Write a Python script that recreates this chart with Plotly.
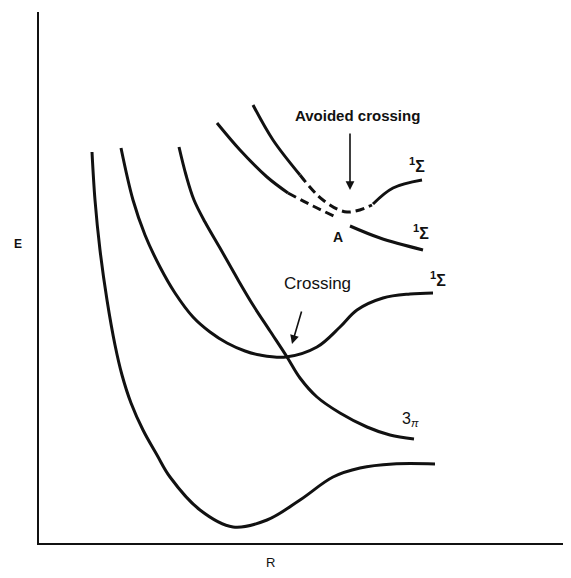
import plotly.graph_objects as go

# R / E in arbitrary units (origin at the axes corner)
ground_R = [53, 56, 61, 68, 76, 83, 92, 104, 118, 131, 161, 194, 228, 261, 294, 321, 354, 396]
ground_E = [391, 343, 293, 243, 198, 168, 140, 113, 88, 66, 33, 16, 23, 43, 66, 75, 79, 79]

sigma_R = [82, 94, 106, 121, 136, 154, 171, 188, 206, 221, 247, 278, 301, 318, 344, 371, 394]
sigma_E = [395, 343, 308, 276, 250, 226, 211, 200, 192, 188, 186, 196, 216, 233, 245, 249, 250]

pi_R = [140, 147, 155, 166, 181, 198, 214, 231, 248, 261, 278, 301, 328, 351, 375]
pi_E = [396, 368, 343, 321, 295, 265, 238, 212, 186, 165, 146, 130, 116, 108, 104]

# lower curve of the avoided-crossing pair
low_solid_R = [178, 201, 228, 249]
low_solid_E = [420, 393, 366, 350]
low_dash_R = [249, 274, 299]
low_dash_E = [350, 337, 325]
low_right_R = [311, 341, 384]
low_right_E = [317, 305, 293]

# upper curve of the avoided-crossing pair
up_solid_R = [214, 234, 261]
up_solid_E = [438, 403, 368]
up_dash_R = [261, 284, 308, 333]
up_dash_E = [368, 343, 331, 338]
up_right_R = [334, 354, 383]
up_right_E = [339, 355, 363]

LINE = '#111111'
FONT = 'Liberation Sans'


def curve(r, e, dash='solid'):
    return go.Scatter(
        x=r, y=e,
        mode='lines',
        line=dict(color=LINE, width=3, shape='spline', smoothing=1.0, dash=dash),
        hoverinfo='skip'
    )


def label(r, e, text, size=14, bold=False, ref='data'):
    if bold:
        text = f'<b>{text}</b>'
    xref, yref = ('x', 'y') if ref == 'data' else ('paper', 'paper')
    return dict(x=r, y=e, xref=xref, yref=yref, text=text, showarrow=False,
                font=dict(family=FONT, size=size, color=LINE))


def arrow(tail, tip):
    return dict(x=tip[0], y=tip[1], ax=tail[0], ay=tail[1],
                xref='x', yref='y', axref='x', ayref='y',
                text='', showarrow=True, arrowhead=2, arrowsize=1.1,
                arrowwidth=1.6, arrowcolor=LINE)


fig = go.Figure()
fig.add_trace(curve(ground_R, ground_E))
fig.add_trace(curve(sigma_R, sigma_E))
fig.add_trace(curve(pi_R, pi_E))
fig.add_trace(curve(low_solid_R, low_solid_E))
fig.add_trace(curve(low_dash_R, low_dash_E, dash='9px,5px'))
fig.add_trace(curve(low_right_R, low_right_E))
fig.add_trace(curve(up_solid_R, up_solid_E))
fig.add_trace(curve(up_dash_R, up_dash_E, dash='9px,5px'))
fig.add_trace(curve(up_right_R, up_right_E))

annotations = [
    label(318, 428, 'Avoided crossing', size=15, bold=True),
    arrow((311, 411), (311, 353)),
    label(378, 378, '<sup>1</sup>Σ', size=16, bold=True),
    label(382, 311, '<sup>1</sup>Σ', size=16, bold=True),
    label(299, 306, 'A', size=14, bold=True),
    label(278, 260, 'Crossing', size=17),
    arrow((263, 233), (253, 199)),
    label(399, 264, '<sup>1</sup>Σ', size=16, bold=True),
    label(371, 124, '3<sub><i>π</i></sub>', size=16),
    # axis names sit outside the plot area, so they use paper coordinates
    label(-0.05, 0.563, 'E', size=12, bold=True, ref='paper'),
    label(0.436, -0.055, 'R', size=13, ref='paper'),
]

fig.update_layout(
    width=571,
    height=578,
    margin=dict(l=31, r=8, t=4, b=43),
    showlegend=False,
    hovermode=False,
    paper_bgcolor='white',
    plot_bgcolor='white',
    annotations=annotations,
    xaxis=dict(
        range=[0, 532],
        showline=True, linecolor=LINE, linewidth=2,
        showgrid=False, zeroline=False, showticklabels=False, ticks=''
    ),
    yaxis=dict(
        range=[0, 531],
        showline=True, linecolor=LINE, linewidth=2,
        showgrid=False, zeroline=False, showticklabels=False, ticks=''
    ),
)

fig.write_html('out.html')
